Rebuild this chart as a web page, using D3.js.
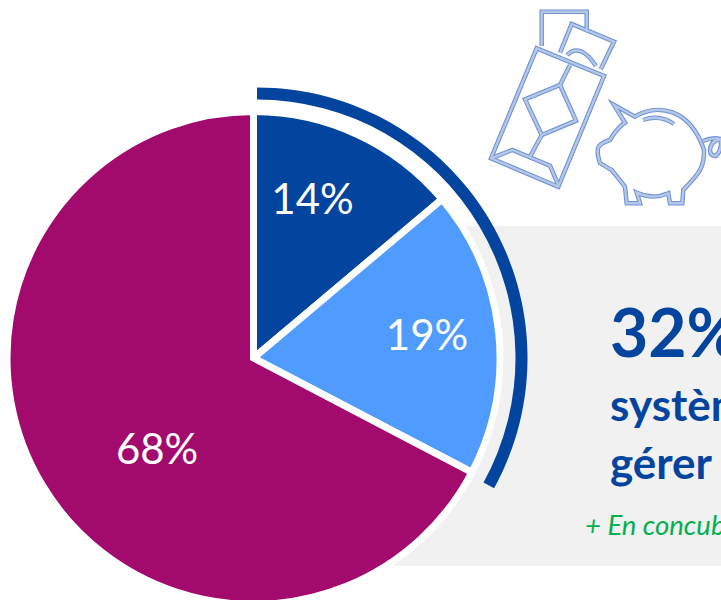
<!DOCTYPE html>
<html>
<head>
  <title>Pie chart</title>
  <script src="https://d3js.org/d3.v7.min.js"></script>
  <style>
    html, body { margin: 0; padding: 0; background: #fff; overflow: hidden; }
    svg { display: block; font-family: Lato, sans-serif; }
    .icon { fill: none; stroke-linejoin: miter; }
  </style>
</head>
<body>
  <svg width="721" height="600"></svg>

  <script>
    const categories = ['a', 'b', 'c'];
    const values = [14, 19, 68];
    const labels = ['14%', '19%', '68%'];
    const colors = ['#03449e', '#4f9bff', '#a30a6e'];
    // the bracket runs over the two blue slices
    const bracketed = [14, 19];

    const svg = d3.select('svg');
    const cx = 253.5, cy = 358, r = 246.5;

    // grey panel behind the pie
    svg.append('rect')
      .attr('x', 380).attr('y', 226)
      .attr('width', 341).attr('height', 340)
      .attr('fill', '#f1f1f1');

    const pie = d3.pie().sort(null).value((d, i) => values[i]);
    const arc = d3.arc().innerRadius(0).outerRadius(r);
    const arcs = pie(categories);

    const g = svg.append('g').attr('transform', `translate(${cx},${cy})`);

    g.selectAll('path')
      .data(arcs)
      .join('path')
      .attr('d', arc)
      .attr('fill', (d, i) => colors[i])
      .attr('stroke', '#fff')
      .attr('stroke-width', 7);

    // labels, moved from the slice centroid to where they sit in the picture
    const labelNudge = [[7, -48], [51, -11], [9, 26]];
    g.selectAll('text')
      .data(arcs)
      .join('text')
      .attr('x', (d, i) => arc.centroid(d)[0] + labelNudge[i][0])
      .attr('y', (d, i) => arc.centroid(d)[1] + labelNudge[i][1])
      .attr('text-anchor', 'middle')
      .attr('dominant-baseline', 'central')
      .attr('fill', '#fff')
      .attr('font-size', 42)
      .text((d, i) => labels[i]);

    // dark bracket outside the pie (percentages, so out of 100)
    const bracketEnd = d3.sum(bracketed) / 100 * 2 * Math.PI;
    svg.append('path')
      .attr('transform', `translate(257,358)`)
      .attr('d', d3.arc()({ innerRadius: 258.5, outerRadius: 270.5, startAngle: 0, endAngle: bracketEnd }))
      .attr('fill', '#03449e');

    // panel text, cut by the page edge
    const panel = svg.append('g');
    panel.append('text').attr('x', 610).attr('y', 357)
      .attr('font-size', 66).attr('font-weight', 700).attr('fill', '#03449e').text('32%');
    panel.append('text').attr('x', 610).attr('y', 421)
      .attr('font-size', 44).attr('font-weight', 700).attr('fill', '#03449e').text('systèmes');
    panel.append('text').attr('x', 610).attr('y', 479)
      .attr('font-size', 44).attr('font-weight', 700).attr('fill', '#03449e').text('gérer');
    panel.append('text').attr('x', 585).attr('y', 535)
      .attr('font-size', 27.5).attr('font-style', 'italic').attr('fill', '#00b050').text('+ En concubinage');

    // money and piggy bank icons
    const iconPaths = [
      'M541.7 46V11.7H586.7V31.7',
      'M560 52.7L571.7 24L614 41.7L600.7 69.3',
      'M567 55Q580 42 596 66',
      'M536.7 48.3L604 76L558.3 186.7L491 158.3Z',
      'M525 99.3L560 85L576 120.7L541.7 135Z',
      'M570 65L560 85M541.7 135L530 156.7',
      'M491 158.3L512.3 150L550 165.7L558.3 185',
      'M614 105L635 116.7C657 103 690 108 704 150C705 170 695 177 683.3 190L682.3 203.3H670L668.3 193.3Q653 200 636.7 192.7L640 203.3H626.7L625 186.7L611.7 170Q603 165 600 163Q597 155 598 148Q600 143 610 140Q617 128 625 122.7Z',
      'M643 120Q660 114 674 124',
      'M703 141Q712 137 721 139Q711 140 710 150Q710 156 716 156Q722 150 721 139'
    ];
    const icons = svg.append('g').attr('class', 'icon');
    icons.selectAll('path.outer')
      .data(iconPaths).join('path').attr('class', 'outer')
      .attr('d', d => d).attr('stroke', '#6f93d3').attr('stroke-width', 4.5);
    icons.selectAll('path.inner')
      .data(iconPaths).join('path').attr('class', 'inner')
      .attr('d', d => d).attr('stroke', '#b4c7e7').attr('stroke-width', 2.4);
  </script>
</body>
</html>
